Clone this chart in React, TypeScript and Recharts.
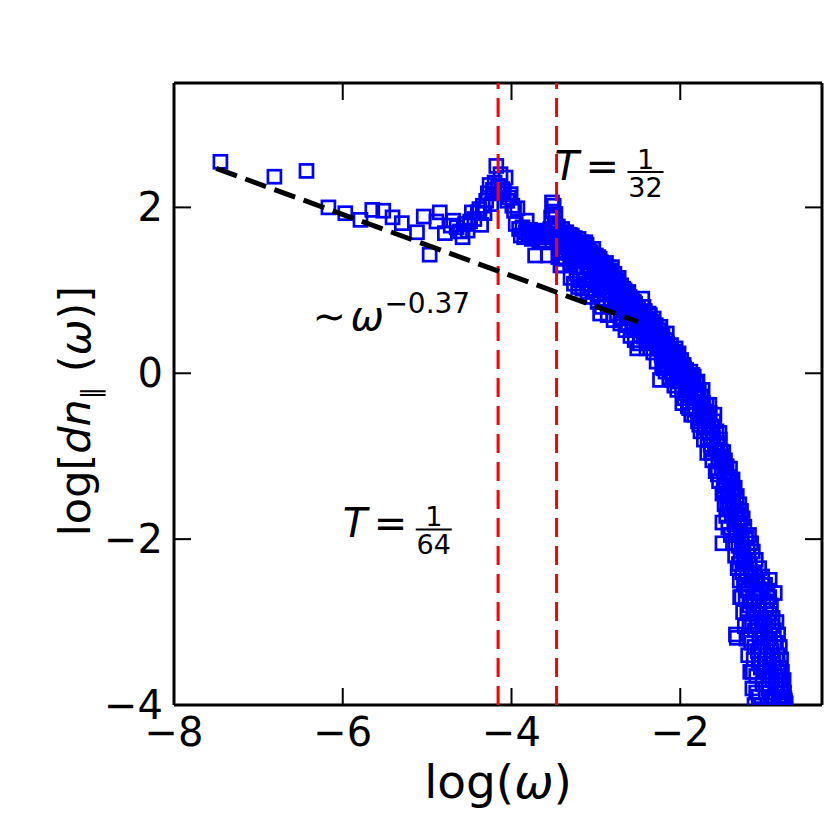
import { ScatterChart, Scatter, XAxis, YAxis } from "recharts"

const FONT = "DejaVu Sans, Verdana, sans-serif"

const X_DOMAIN = [-8, -0.32]
const Y_DOMAIN = [-4, 3.5]
const X_TICKS = [-8, -6, -4, -2]
const Y_TICKS = [-4, -2, 0, 2]

// low frequency part, sparse in log(omega)
const sparsePoints: [number, number][] = [
  [-7.45, 2.55], [-6.81, 2.37], [-6.43, 2.44], [-6.17, 2.0], [-5.97, 1.93], [-5.79, 1.85],
  [-5.65, 1.97], [-5.52, 1.96], [-5.41, 1.88], [-5.3, 1.81], [-5.12, 1.7], [-5.04, 1.89],
  [-4.97, 1.43], [-4.89, 1.83], [-4.85, 1.94], [-4.79, 1.69], [-4.72, 1.78], [-4.69, 1.84],
  [-4.65, 1.76], [-4.61, 1.71], [-4.58, 1.64], [-4.55, 1.8], [-4.52, 1.72], [-4.49, 1.83],
  [-4.47, 1.94], [-4.44, 1.86], [-4.4, 1.94], [-4.38, 1.98], [-4.36, 1.79], [-4.34, 2.02],
  [-4.32, 1.93], [-4.3, 2.08], [-4.28, 2.17], [-4.26, 2.27], [-4.24, 2.04], [-4.22, 2.21],
  [-4.2, 2.3], [-4.18, 2.5], [-4.16, 2.26], [-4.14, 2.17], [-4.13, 2.4], [-4.11, 2.22],
  [-4.09, 2.2], [-4.07, 2.36], [-4.05, 2.08], [-4.03, 2.12], [-4.01, 2.16], [-3.99, 2.02],
  [-3.97, 1.96], [-3.95, 1.8], [-3.93, 1.99], [-3.91, 1.74], [-3.89, 1.66], [-3.87, 1.76],
  [-3.85, 1.64], [-3.83, 1.7], [-3.82, 1.84], [-3.8, 1.68], [-3.78, 1.73], [-3.76, 1.62],
  [-3.74, 1.7], [-3.72, 1.42], [-3.71, 1.66], [-3.69, 1.72], [-3.67, 1.6], [-3.66, 1.69],
  [-3.64, 1.64], [-3.62, 1.7], [-3.6, 1.6], [-3.59, 1.66], [-3.57, 1.42], [-3.56, 1.67],
  [-3.54, 1.74], [-3.53, 1.88], [-3.52, 2.06], [-3.51, 1.95], [-3.5, 2.02], [-3.49, 1.81],
  [-3.48, 1.92],
]

// falling band between the T=1/32 peak and log(omega) = -1.5
const bandPoints: [number, number][] = [
  [-3.47, 1.72], [-3.46, 1.6], [-3.45, 1.77], [-3.44, 1.52], [-3.43, 1.68], [-3.42, 1.3],
  [-3.41, 1.63], [-3.4, 1.74], [-3.39, 1.3], [-3.38, 1.57], [-3.37, 1.66], [-3.36, 1.48],
  [-3.35, 1.7], [-3.33, 1.61], [-3.32, 1.54], [-3.31, 1.67], [-3.29, 1.44], [-3.28, 1.59],
  [-3.27, 1.52], [-3.25, 1.63], [-3.24, 1.38], [-3.22, 1.56], [-3.21, 1.04], [-3.2, 1.49],
  [-3.19, 1.12], [-3.18, 1.58], [-3.17, 1.43], [-3.15, 1.52], [-3.14, 1.35], [-3.12, 1.47],
  [-3.11, 1.55], [-3.09, 1.4], [-3.08, 1.28], [-3.06, 1.46], [-3.05, 1.36], [-3.03, 1.5],
  [-3.02, 1.22], [-3.0, 1.42], [-2.99, 1.3], [-2.98, 1.08], [-2.97, 1.4], [-2.95, 0.72],
  [-2.95, 1.2], [-2.94, 1.34], [-2.92, 1.15], [-2.91, 1.27], [-2.89, 1.05], [-2.88, 1.33],
  [-2.87, 1.18], [-2.85, 1.24], [-2.84, 0.98], [-2.83, 1.16], [-2.81, 1.28], [-2.8, 1.08],
  [-2.78, 1.2], [-2.77, 0.92], [-2.76, 1.12], [-2.74, 1.02], [-2.73, 1.15], [-2.72, 0.85],
  [-2.7, 1.06], [-2.69, 0.96], [-2.67, 0.78], [-2.66, 1.0], [-2.64, 0.88], [-2.63, 0.96],
  [-2.61, 0.7], [-2.6, 0.92], [-2.58, 0.82], [-2.57, 0.62], [-2.56, 0.55], [-2.55, 0.86],
  [-2.53, 0.74], [-2.52, 0.66], [-2.5, 0.8], [-2.49, 0.58], [-2.48, 0.36], [-2.47, 0.7],
  [-2.46, 0.52], [-2.45, 0.9], [-2.44, 0.62], [-2.43, 0.44], [-2.42, 0.75], [-2.41, 0.58],
  [-2.4, 0.3], [-2.39, 0.66], [-2.38, 0.5], [-2.37, 0.38], [-2.36, 0.7], [-2.35, 0.56],
  [-2.34, 0.44], [-2.33, 0.62], [-2.32, 0.25], [-2.31, 0.5], [-2.3, 0.36], [-2.29, 0.58],
  [-2.28, 0.14], [-2.27, 0.46], [-2.26, 0.3], [-2.25, 0.52], [-2.24, -0.08], [-2.23, 0.4],
  [-2.22, 0.22], [-2.21, 0.45], [-2.2, 0.06], [-2.19, 0.34], [-2.18, 0.18], [-2.17, 0.4],
  [-2.16, 0.48], [-2.15, 0.1], [-2.14, 0.28], [-2.13, -0.05], [-2.12, 0.2], [-2.11, 0.34],
  [-2.1, 0.02], [-2.09, 0.14], [-2.08, 0.26], [-2.07, -0.15], [-2.06, 0.08], [-2.05, 0.22],
  [-2.04, -0.02], [-2.03, 0.12], [-2.02, 0.24], [-2.01, -0.1], [-2.0, 0.05], [-1.99, 0.16],
  [-1.98, -0.2], [-1.97, 0.0], [-1.96, 0.1], [-1.95, -0.3], [-1.94, -0.08], [-1.93, 0.04],
  [-1.92, -0.18], [-1.91, -0.4], [-1.9, -0.06], [-1.89, -0.26], [-1.88, 0.02], [-1.87, -0.5],
  [-1.86, -0.14], [-1.85, -0.34], [-1.84, -0.04], [-1.83, -0.22], [-1.82, -0.44], [-1.81, -0.12],
  [-1.8, -0.3], [-1.79, -0.58], [-1.78, -0.2], [-1.77, -0.4], [-1.76, -0.7], [-1.75, -0.28],
  [-1.74, -0.52], [-1.73, -0.36], [-1.72, -0.8], [-1.71, -0.46], [-1.7, -0.62], [-1.69, -0.38],
  [-1.68, -0.96], [-1.67, -0.56], [-1.66, -0.72], [-1.65, -0.48], [-1.64, -0.86], [-1.63, -0.64],
  [-1.62, -1.05], [-1.61, -0.78], [-1.6, -0.58], [-1.59, -0.92], [-1.58, -1.18], [-1.57, -0.7],
  [-1.56, -0.84], [-1.55, -1.02], [-1.54, -1.3], [-1.53, -0.8], [-1.52, -0.94], [-1.51, -1.14],
  [-1.5, -1.45], [-1.5, -1.8], [-1.5, -2.05],
]

// second pass through the same band, read where the squares overlap
const bandFill: [number, number][] = [
  [-3.445, 1.4], [-3.425, 1.56], [-3.405, 1.47], [-3.385, 1.7], [-3.365, 1.38], [-3.345, 1.58],
  [-3.325, 1.45], [-3.305, 1.34], [-3.285, 1.66], [-3.265, 1.4], [-3.245, 1.55], [-3.225, 1.28],
  [-3.205, 1.62], [-3.185, 1.36], [-3.165, 1.5], [-3.145, 1.22], [-3.125, 1.58], [-3.105, 1.3],
  [-3.085, 1.5], [-3.065, 1.18], [-3.045, 1.44], [-3.025, 1.34], [-2.995, 1.16], [-2.975, 1.26],
  [-2.955, 1.38], [-2.935, 1.04], [-2.915, 1.22], [-2.895, 1.3], [-2.875, 0.95], [-2.855, 1.12],
  [-2.835, 1.24], [-2.815, 1.0], [-2.795, 1.15], [-2.775, 1.04], [-2.755, 0.86], [-2.735, 1.1],
  [-2.715, 0.96], [-2.695, 0.82], [-2.675, 1.02], [-2.655, 0.9], [-2.635, 0.74], [-2.615, 0.98],
  [-2.595, 0.8], [-2.575, 0.9], [-2.555, 0.7], [-2.535, 0.84], [-2.515, 0.6], [-2.495, 0.72],
  [-2.475, 0.46], [-2.455, 0.66], [-2.435, 0.8], [-2.415, 0.48], [-2.395, 0.58], [-2.375, 0.72],
  [-2.355, 0.4], [-2.335, 0.52], [-2.315, 0.66], [-2.295, 0.44], [-2.275, 0.3], [-2.255, 0.4],
  [-2.235, 0.56], [-2.215, 0.1], [-2.195, 0.24], [-2.175, 0.02], [-2.155, 0.36], [-2.135, 0.14],
  [-2.115, 0.24], [-2.095, -0.08], [-2.075, 0.18], [-2.055, 0.3], [-2.035, -0.2], [-2.015, 0.1],
  [-1.995, -0.05], [-1.975, -0.36], [-1.955, 0.06], [-1.935, -0.24], [-1.915, -0.1], [-1.895, -0.42],
  [-1.875, -0.18], [-1.855, -0.02], [-1.835, -0.5], [-1.815, -0.28], [-1.795, -0.1], [-1.775, -0.62],
  [-1.755, -0.42], [-1.735, -0.2], [-1.715, -0.66], [-1.695, -0.5], [-1.675, -0.78], [-1.655, -0.38],
  [-1.635, -0.96], [-1.615, -0.66], [-1.595, -0.5], [-1.575, -0.92], [-1.555, -1.22], [-1.535, -0.72],
  [-1.515, -1.0],
]

// lower edge of the band just after the 1/32 peak
const bandLower: [number, number][] = [
  [-3.3, 1.15], [-3.26, 1.08], [-3.23, 1.2], [-3.16, 1.02], [-3.13, 1.12], [-3.1, 0.98],
  [-3.07, 1.06], [-3.04, 0.92], [-3.01, 1.0], [-2.98, 0.86], [-2.96, 0.95], [-2.93, 0.8],
  [-2.9, 0.9], [-2.86, 0.7], [-2.82, 0.82], [-2.79, 0.64], [-2.75, 0.72], [-2.71, 0.6],
  [-2.68, 0.66], [-2.65, 0.52], [-2.62, 0.58], [-2.59, 0.45], [-2.54, 0.4], [-2.51, 0.3],
]

// steep high frequency tail, runs off the bottom of the axes
const tailPoints: [number, number][] = [
  [-1.49, -0.95], [-1.48, -1.22], [-1.475, -1.58], [-1.47, -1.05], [-1.46, -1.36], [-1.455, -1.72],
  [-1.45, -1.12], [-1.44, -1.48], [-1.435, -1.25], [-1.43, -1.86], [-1.42, -1.3], [-1.415, -1.6],
  [-1.41, -1.15], [-1.4, -1.95], [-1.395, -1.42], [-1.39, -1.7], [-1.38, -1.28], [-1.375, -2.05],
  [-1.37, -1.56], [-1.36, -1.82], [-1.355, -1.38], [-1.35, -2.2], [-1.34, -1.64], [-1.34, -3.15],
  [-1.335, -1.95], [-1.33, -1.48], [-1.33, -3.19], [-1.32, -2.35], [-1.315, -1.76], [-1.31, -2.08],
  [-1.3, -1.58], [-1.295, -2.5], [-1.29, -1.9], [-1.29, -2.7], [-1.285, -2.22], [-1.28, -1.66],
  [-1.275, -2.7], [-1.27, -2.02], [-1.265, -2.4], [-1.26, -1.75], [-1.255, -2.88], [-1.25, -2.14],
  [-1.245, -2.55], [-1.24, -1.85], [-1.235, -3.05], [-1.23, -2.28], [-1.225, -2.7], [-1.22, -1.98],
  [-1.215, -3.2], [-1.21, -2.42], [-1.205, -2.86], [-1.2, -2.1], [-1.195, -3.4], [-1.19, -2.6],
  [-1.185, -1.95], [-1.18, -3.0], [-1.175, -2.3], [-1.17, -3.6], [-1.165, -2.75], [-1.16, -2.05],
  [-1.155, -3.25], [-1.15, -2.5], [-1.145, -3.8], [-1.14, -2.15], [-1.135, -2.9], [-1.13, -3.45],
  [-1.125, -2.4], [-1.12, -4.0], [-1.115, -3.1], [-1.11, -2.65], [-1.105, -2.25], [-1.1, -3.65],
  [-1.095, -2.95], [-1.09, -4.2], [-1.085, -2.5], [-1.08, -3.35], [-1.075, -2.8], [-1.07, -3.9],
  [-1.065, -2.35], [-1.06, -3.15], [-1.055, -4.1], [-1.05, -2.65], [-1.045, -3.55], [-1.04, -2.95],
  [-1.035, -4.3], [-1.03, -2.45], [-1.025, -3.75], [-1.02, -3.25], [-1.015, -2.75], [-1.01, -4.05],
  [-1.0, -3.45], [-0.995, -2.55], [-0.99, -3.05], [-0.985, -3.85], [-0.98, -2.85], [-0.975, -4.25],
  [-0.97, -3.3], [-0.965, -2.62], [-0.96, -3.65], [-0.955, -3.0], [-0.95, -4.1], [-0.945, -2.7],
  [-0.94, -2.49], [-0.94, -3.5], [-0.935, -3.15], [-0.93, -3.95], [-0.925, -2.8], [-0.92, -4.35],
  [-0.915, -3.35], [-0.91, -3.7], [-0.905, -2.95], [-0.9, -4.15], [-0.89, -3.1], [-0.885, -3.55],
  [-0.88, -2.65], [-0.875, -3.85], [-0.87, -4.3], [-0.865, -3.25], [-0.86, -3.0], [-0.855, -3.65],
  [-0.85, -4.05], [-0.845, -3.4], [-0.84, -3.15], [-0.835, -3.9], [-0.83, -4.4], [-0.825, -3.55],
  [-0.82, -3.3], [-0.815, -3.75], [-0.81, -4.15], [-0.805, -3.45], [-0.8, -3.95], [-0.795, -3.6],
  [-0.79, -4.3], [-0.785, -3.8], [-0.78, -4.05], [-0.775, -3.7], [-0.77, -4.25], [-0.765, -3.92],
  [-0.76, -4.1], [-0.755, -4.4], [-0.75, -3.98], [-0.745, -4.2],
]

// second pass through the tail
const tailFill: [number, number][] = [
  [-1.485, -1.4], [-1.465, -1.18], [-1.445, -1.62], [-1.425, -1.45], [-1.405, -1.3], [-1.385, -1.55],
  [-1.365, -1.4], [-1.345, -1.9], [-1.325, -1.7], [-1.305, -2.3], [-1.285, -1.8], [-1.265, -2.1],
  [-1.245, -2.3], [-1.225, -2.5], [-1.205, -2.62], [-1.19, -2.2], [-1.18, -2.8], [-1.17, -3.2],
  [-1.16, -2.4], [-1.15, -3.05], [-1.14, -3.6], [-1.13, -2.7], [-1.12, -3.3], [-1.11, -2.45],
  [-1.1, -3.85], [-1.09, -3.0], [-1.08, -2.6], [-1.07, -3.5], [-1.06, -2.8], [-1.05, -3.3],
  [-1.04, -4.0], [-1.03, -3.1], [-1.02, -2.55], [-1.01, -3.6], [-1.0, -2.95], [-0.99, -4.1],
  [-0.98, -3.4], [-0.97, -2.75], [-0.96, -3.2], [-0.95, -3.8], [-0.94, -2.9], [-0.93, -3.3],
  [-0.92, -3.6], [-0.91, -3.05], [-0.9, -3.45], [-0.89, -3.9], [-0.88, -3.25], [-0.87, -3.7],
  [-0.86, -3.45], [-0.85, -3.8], [-0.84, -3.6], [-0.83, -3.95], [-0.82, -3.7], [-0.81, -3.9],
  [-0.8, -4.1], [-0.79, -3.75], [-0.78, -3.9], [-0.77, -3.85], [-0.76, -3.95],
]

// power-law fit ~ omega^-0.37 and the two forcing periods log(1/64), log(1/32)
const fitLine = [
  { x: -7.5, y: 2.47 },
  { x: -2.5, y: 0.62 },
]
const periodLines = [-4.159, -3.466]

const labelAnchors = {
  fit: { x: -6.36, y: 0.52 },
  t32: { x: -3.49, y: 2.33 },
  t64: { x: -6.0, y: -1.98 },
}

const points = [...sparsePoints, ...bandPoints, ...bandFill, ...bandLower, ...tailPoints, ...tailFill].map(
  ([x, y]) => ({ x, y }),
)

const fmt = (v: number) => (v < 0 ? `\u2212${-v}` : `${v}`)

const TICK_LEN = 17
const TICK_FONT = 40
const LABEL_FONT = 47
const axisLine = { stroke: "#000", strokeWidth: 3 }

const BottomTick = ({ x, y, payload }: any) => (
  <g>
    <line x1={x} y1={y} x2={x} y2={y - TICK_LEN} stroke="#000" strokeWidth={2} />
    <text x={x} y={y + 41} textAnchor="middle" fontSize={TICK_FONT} fontFamily={FONT} fill="#000">
      {fmt(payload.value)}
    </text>
  </g>
)

const TopTick = ({ x, y }: any) => (
  <line x1={x} y1={y} x2={x} y2={y + TICK_LEN} stroke="#000" strokeWidth={2} />
)

const LeftTick = ({ x, y, payload }: any) => (
  <g>
    <line x1={x} y1={y} x2={x + TICK_LEN} y2={y} stroke="#000" strokeWidth={2} />
    <text x={x - 11} y={y + 14} textAnchor="end" fontSize={TICK_FONT} fontFamily={FONT} fill="#000">
      {fmt(payload.value)}
    </text>
  </g>
)

const RightTick = ({ x, y }: any) => (
  <line x1={x} y1={y} x2={x - TICK_LEN} y2={y} stroke="#000" strokeWidth={2} />
)

const Square = ({ cx, cy }: any) => (
  <rect x={cx - 6.5} y={cy - 6.5} width={13} height={13} fill="none" stroke="#0000ff" strokeWidth={2.7} />
)

const NoMark = () => <g />

const Fraction = ({ x, y, den }: { x: number; y: number; den: string }) => (
  <g fontFamily={FONT} fill="#000">
    <text x={x} y={y} fontSize={40} fontStyle="italic">T</text>
    <text x={x + 31} y={y} fontSize={40}>=</text>
    <text x={x + 91} y={y - 11} fontSize={27} textAnchor="middle">1</text>
    <line x1={x + 73} x2={x + 109} y1={y - 8} y2={y - 8} stroke="#000" strokeWidth={2} />
    <text x={x + 91} y={y + 17} fontSize={27} textAnchor="middle">{den}</text>
  </g>
)

const FitLabel = ({ cx, cy }: any) => (
  <g fontFamily={FONT} fill="#000">
    <text x={cx} y={cy} fontSize={40}>{"\u223C"}</text>
    <text x={cx + 38} y={cy} fontSize={40} fontStyle="italic">ω</text>
    <text x={cx + 72} y={cy - 17} fontSize={28}>{"\u22120.37"}</text>
  </g>
)

const axisCommon = {
  type: "number" as const,
  interval: 0 as const,
  allowDataOverflow: true,
  tickSize: 0,
  tickMargin: 0,
  tickLine: false,
  axisLine,
}

export default function App() {
  return (
    <div style={{ position: "absolute", left: 0, top: 0, width: 830, height: 830, background: "#fff" }}>
      <ScatterChart width={830} height={830} margin={{ top: 82, right: 7, bottom: 124, left: 173 }}>
        <XAxis {...axisCommon} xAxisId="b" dataKey="x" domain={X_DOMAIN} ticks={X_TICKS} height={1} tick={<BottomTick />} />
        <XAxis
          {...axisCommon}
          xAxisId="t"
          orientation="top"
          dataKey="x"
          domain={X_DOMAIN}
          ticks={X_TICKS}
          height={1}
          tick={<TopTick />}
        />
        <YAxis {...axisCommon} yAxisId="l" dataKey="y" domain={Y_DOMAIN} ticks={Y_TICKS} width={1} tick={<LeftTick />} />
        <YAxis
          {...axisCommon}
          yAxisId="r"
          orientation="right"
          dataKey="y"
          domain={Y_DOMAIN}
          ticks={Y_TICKS}
          width={1}
          tick={<RightTick />}
        />
        <Scatter xAxisId="b" yAxisId="l" data={points} shape={<Square />} isAnimationActive={false} />
        <Scatter xAxisId="t" yAxisId="r" data={[]} isAnimationActive={false} />
        {periodLines.map((x) => (
          <Scatter
            key={x}
            xAxisId="b"
            yAxisId="l"
            data={[
              { x, y: Y_DOMAIN[0] },
              { x, y: Y_DOMAIN[1] },
            ]}
            line={{ stroke: "#ff0000", strokeWidth: 3, strokeDasharray: "19 9" }}
            shape={<NoMark />}
            isAnimationActive={false}
          />
        ))}
        <Scatter
          xAxisId="b"
          yAxisId="l"
          data={fitLine}
          line={{ stroke: "#000", strokeWidth: 5, strokeDasharray: "22 9" }}
          shape={<NoMark />}
          isAnimationActive={false}
        />
        <Scatter
          xAxisId="b"
          yAxisId="l"
          data={[labelAnchors.fit]}
          shape={<FitLabel />}
          isAnimationActive={false}
        />
        <Scatter
          xAxisId="b"
          yAxisId="l"
          data={[labelAnchors.t32]}
          shape={(p: any) => <Fraction x={p.cx} y={p.cy} den="32" />}
          isAnimationActive={false}
        />
        <Scatter
          xAxisId="b"
          yAxisId="l"
          data={[labelAnchors.t64]}
          shape={(p: any) => <Fraction x={p.cx} y={p.cy} den="64" />}
          isAnimationActive={false}
        />
      </ScatterChart>
      <svg
        width={830}
        height={830}
        style={{ position: "absolute", left: 0, top: 0, pointerEvents: "none" }}
      >
        <text x={498} y={798} textAnchor="middle" fontSize={LABEL_FONT} fontFamily={FONT}>
          log(<tspan fontStyle="italic">ω</tspan>)
        </text>
        <text
          x={90}
          y={411}
          transform="rotate(-90 90 411)"
          textAnchor="middle"
          fontSize={43}
          fontFamily={FONT}
        >
          log[<tspan fontStyle="italic">dn</tspan>
          <tspan fontSize={26} dy={10}>∥</tspan>
          <tspan dy={-10} dx={14}>(</tspan>
          <tspan fontStyle="italic">ω</tspan>)]
        </text>
      </svg>
    </div>
  )
}
